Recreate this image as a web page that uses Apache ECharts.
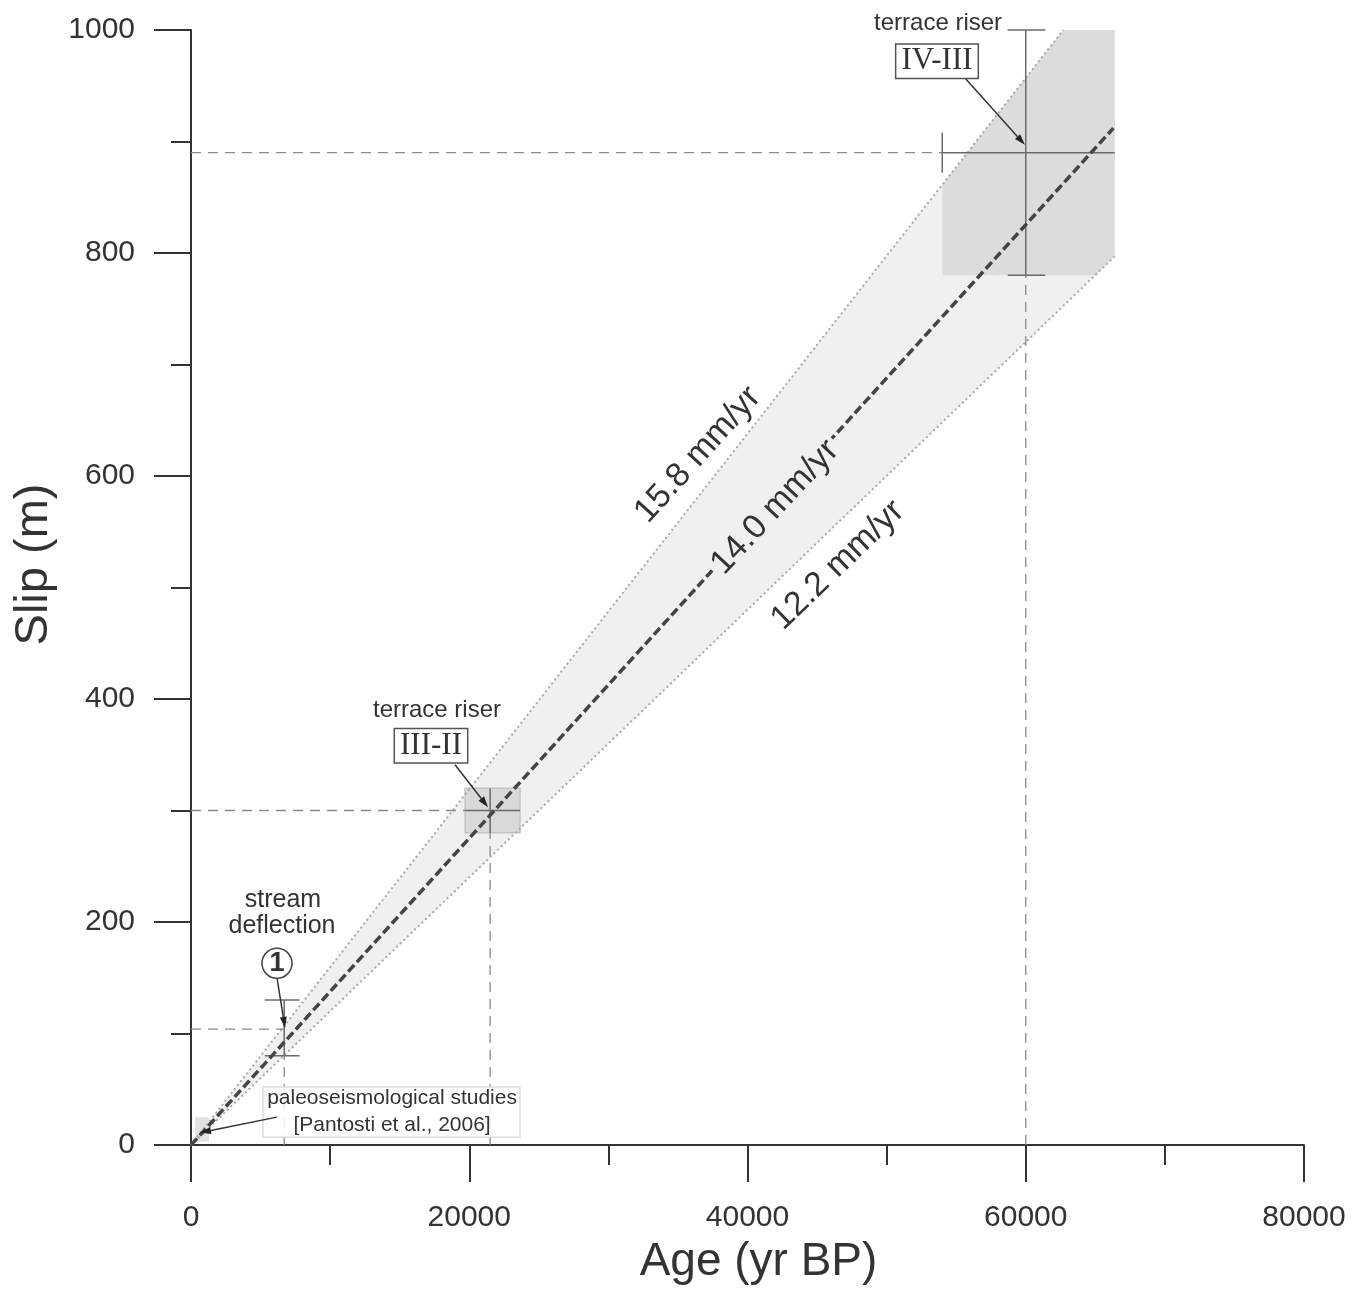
<!DOCTYPE html>
<html><head><meta charset="utf-8">
<script src="https://cdn.jsdelivr.net/npm/echarts@6/dist/echarts.min.js"></script>
<style>html,body{margin:0;padding:0;background:#fff}#chart{width:1361px;height:1305px}</style>
</head><body><div id="chart"></div>
<script>
// ---------------- DATA (age in yr BP, slip in m) ----------------
const xTickValues = [0, 20000, 40000, 60000, 80000];
const yTickValues = [0, 200, 400, 600, 800, 1000];

// best-fit and envelope rate lines
const rate140 = [[0, 0], [66300, 912]];
const rate158 = [[0, 0], [62700, 1000]];
const rate122 = [[0, 0], [66400, 797]];

// shaded envelope between 15.8 and 12.2 mm/yr
const envelope = [[0, 0], [62700, 1000], [66400, 1000], [66400, 797]];
// terrace riser IV-III uncertainty box (clipped by envelope)
const boxIVIII = [[54000, 780], [54000, 861], [62700, 1000], [66400, 1000], [66400, 797], [65000, 780]];
// terrace riser III-II uncertainty box [ageLo, slipLo, ageHi, slipHi]
const boxIIIII = [19700, 280, 23650, 320];
// paleoseismological data box
const boxPaleo = [300, 3, 1300, 25];

// markers: age, slip, age range, slip range
const markerNames = ['IV-III', 'III-II', '1'];
const markerAge = [60000, 21500, 6700];
const markerSlip = [890, 300, 104];
const markerAgeRange = [[54000, 66400], [19700, 23650], [6700, 6700]];
const markerSlipRange = [[780, 1000], [280, 320], [80, 130]];

// annotation labels anchored in data units
const labelTexts = ['terrace riser', 'IV-III', 'terrace riser', 'III-II', 'stream', 'deflection', '1',
  'paleoseismological studies', '[Pantosti et al., 2006]', '15.8 mm/yr', '14.0 mm/yr', '12.2 mm/yr'];
const labelAge = [53700, 53620, 17680, 17250, 6610, 6540, 6180, 14450, 14450, 36440, 41980, 46500];
const labelSlip = [1006, 972, 390, 358, 220, 196, 163, 42, 18, 619, 572, 520];
const labelAngle = [0, 0, 0, 0, 0, 0, 0, 0, 0, 48, 47, 44];

// arrows [fromAge, fromSlip, toAge, toSlip]
const arrows = [[55630, 957, 59940, 897], [18975, 341, 21350, 303], [6180, 150, 6760, 105], [6180, 25, 650, 11]];

// ---------------- BUILD ----------------
const SANS = '"Liberation Sans", Arial, sans-serif';
const SERIF = '"Liberation Serif", "Times New Roman", serif';

function polySeries(name, pts, style, z) {
  return { type: 'custom', name, z, silent: true, clip: false, data: [0], animation: false,
    renderItem: (p, api) => ({ type: 'polygon', shape: { points: pts.map(q => api.coord(q)) }, style }) };
}
function rectSeries(name, r, style, z) {
  return { type: 'custom', name, z, silent: true, clip: false, data: [0], animation: false,
    renderItem: (p, api) => {
      const a = api.coord([r[0], r[3]]), b = api.coord([r[2], r[1]]);
      return { type: 'rect', shape: { x: a[0], y: a[1], width: b[0] - a[0], height: b[1] - a[1] }, style };
    } };
}
function segSeries(name, segs, style, z) {
  return { type: 'custom', name, z, silent: true, clip: false, data: segs, animation: false,
    renderItem: (p, api) => {
      const a = api.coord([api.value(0), api.value(1)]), b = api.coord([api.value(2), api.value(3)]);
      return { type: 'line', shape: { x1: a[0], y1: a[1], x2: b[0], y2: b[1] }, style };
    } };
}
function lineSeries(name, pts, lineStyle, z) {
  return { type: 'line', name, data: pts, symbol: 'none', silent: true, z, animation: false, clip: false, lineStyle };
}

// reference dashed lines from axes to markers, and error bars
const refSegs = [];
const errSegs = [];
const capSegs = [];
markerNames.forEach((n, i) => {
  const a = markerAge[i], s = markerSlip[i];
  const [aLo, aHi] = markerAgeRange[i];
  const [sLo, sHi] = markerSlipRange[i];
  refSegs.push([0, s, aLo, s]);
  refSegs.push([a, 0, a, sLo]);
  errSegs.push([a, sLo, a, sHi]);
  if (aHi > aLo) errSegs.push([aLo, s, aHi, s]);
});
// caps
capSegs.push([54000, 872, 54000, 908], [58700, 780, 61400, 780], [58700, 1000, 61400, 1000]);
capSegs.push([5300, 130, 7800, 130], [5300, 80, 7800, 80]);

const labelStyles = [
  { font: '24px ' + SANS },
  { font: '31px ' + SERIF, box: true },
  { font: '24px ' + SANS },
  { font: '31px ' + SERIF, box: true },
  { font: '25px ' + SANS },
  { font: '25px ' + SANS },
  { font: 'bold 27px ' + SANS, circle: true },
  { font: '21px ' + SANS },
  { font: '21px ' + SANS },
  { font: '34px ' + SANS },
  { font: '34px ' + SANS, bg: '#f0f0f0' },
  { font: '34px ' + SANS }
];

const labelSeries = {
  type: 'custom', name: 'labels', z: 20, silent: true, clip: false, animation: false,
  data: labelTexts.map((t, i) => [labelAge[i], labelSlip[i], i]),
  renderItem: (p, api) => {
    const i = api.value(2);
    const c = api.coord([api.value(0), api.value(1)]);
    const st = labelStyles[i];
    const children = [];
    if (st.circle) {
      children.push({ type: 'circle', shape: { cx: c[0], cy: c[1], r: 15 }, style: { fill: '#fff', stroke: '#444', lineWidth: 1.5 } });
    }
    const ts = { text: labelTexts[i], font: st.font, fill: '#333', align: 'center', verticalAlign: 'middle' };
    if (st.box) {
      ts.backgroundColor = '#fff'; ts.borderColor = '#555'; ts.borderWidth = 1.5; ts.padding = [2, 5, 0, 5];
    }
    if (st.bg) {
      ts.backgroundColor = st.bg; ts.padding = [0, 4, 0, 4];
    }
    children.push({ type: 'text', x: c[0], y: c[1], rotation: labelAngle[i] * Math.PI / 180, style: ts });
    return { type: 'group', children };
  }
};

const arrowSeries = {
  type: 'custom', name: 'arrows', z: 19, silent: true, clip: false, animation: false, data: arrows,
  renderItem: (p, api) => {
    const a = api.coord([api.value(0), api.value(1)]), b = api.coord([api.value(2), api.value(3)]);
    const ang = Math.atan2(b[1] - a[1], b[0] - a[0]);
    const L = 11, W = 3.5;
    const bx = b[0] - L * Math.cos(ang), by = b[1] - L * Math.sin(ang);
    const px = -Math.sin(ang) * W, py = Math.cos(ang) * W;
    return { type: 'group', children: [
      { type: 'line', shape: { x1: a[0], y1: a[1], x2: bx, y2: by }, style: { stroke: '#333', lineWidth: 1.5 } },
      { type: 'polygon', shape: { points: [[b[0], b[1]], [bx + px, by + py], [bx - px, by - py]] }, style: { fill: '#222' } }
    ] };
  }
};

const paleoBoxSeries = {
  type: 'custom', name: 'paleoLabelBox', z: 15, silent: true, clip: false, animation: false, data: [0],
  renderItem: (p, api) => {
    const a = api.coord([5175, 52]), b = api.coord([23650, 7]);
    return { type: 'rect', shape: { x: a[0], y: a[1], width: b[0] - a[0], height: b[1] - a[1] },
      style: { fill: 'rgba(255,255,255,0.85)', stroke: '#ddd', lineWidth: 1.5 } };
  }
};

const axisCommon = {
  type: 'value',
  axisLine: { show: true, onZero: false, lineStyle: { color: '#333', width: 2 } },
  axisTick: { show: true, length: 37, lineStyle: { color: '#333', width: 2 } },
  minorTick: { show: true, splitNumber: 2, length: 20, lineStyle: { color: '#333', width: 2 } },
  splitLine: { show: false },
  minorSplitLine: { show: false },
  nameLocation: 'middle',
};

const option = {
  animation: false,
  backgroundColor: '#fff',
  grid: { left: 191, right: 57, top: 30, bottom: 160, containLabel: false },
  xAxis: Object.assign({}, axisCommon, {
    min: xTickValues[0], max: xTickValues[xTickValues.length - 1], interval: xTickValues[1] - xTickValues[0],
    name: 'Age (yr BP)', nameGap: 94,
    nameTextStyle: { fontSize: 46, fontFamily: SANS, color: '#333', padding: [0, 0, 0, 22] },
    axisLabel: { margin: 58, fontSize: 30, fontFamily: SANS, color: '#333', formatter: v => String(v) }
  }),
  yAxis: Object.assign({}, axisCommon, {
    min: yTickValues[0], max: yTickValues[yTickValues.length - 1], interval: yTickValues[1] - yTickValues[0],
    name: 'Slip (m)', nameGap: 127,
    nameTextStyle: { fontSize: 47, fontFamily: SANS, color: '#333', padding: [0, 0, 0, 46] },
    axisLabel: { margin: 56, fontSize: 30, fontFamily: SANS, color: '#333', formatter: v => String(v) }
  }),
  series: [
    polySeries('envelope', envelope, { fill: '#f0f0f0' }, 1),
    polySeries('boxIVIII', boxIVIII, { fill: '#dcdcdc' }, 2),
    rectSeries('boxIIIII', boxIIIII, { fill: '#d9d9d9', stroke: '#c4c4c4', lineWidth: 1.5 }, 2),
    rectSeries('boxPaleo', boxPaleo, { fill: '#e2e2e2' }, 2),
    lineSeries('15.8 mm/yr', rate158, { color: '#a8a8a8', width: 2, type: [2, 3] }, 3),
    lineSeries('12.2 mm/yr', rate122, { color: '#a8a8a8', width: 2, type: [2, 3] }, 3),
    segSeries('refLines', refSegs, { stroke: '#8a8a8a', lineWidth: 1.3, lineDash: [10, 7] }, 4),
    segSeries('errorBars', errSegs, { stroke: '#6a6a6a', lineWidth: 1.5 }, 5),
    segSeries('caps', capSegs, { stroke: '#6a6a6a', lineWidth: 1.5 }, 5),
    lineSeries('14.0 mm/yr', rate140, { color: '#444', width: 3.5, type: [9, 4] }, 10),
    paleoBoxSeries,
    arrowSeries,
    labelSeries
  ]
};

const chart = echarts.init(document.getElementById('chart'), null, { renderer: 'canvas' });
chart.setOption(option);
</script>
</body></html>
